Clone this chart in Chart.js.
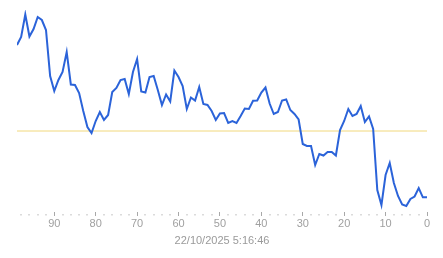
<!DOCTYPE html>
<html>
<head>
<meta charset="utf-8">
<script src="https://cdn.jsdelivr.net/npm/chart.js@4.4.1/dist/chart.umd.min.js"></script>
<style>
  html, body { margin: 0; padding: 0; background: #fff; }
  #wrap { width: 443px; height: 258px; }
</style>
</head>
<body>
<div id="wrap"><canvas id="chart"></canvas></div>
<script>
// samples, oldest (99) on the left down to the newest (0) on the right
var ages = [99, 98, 97, 96, 95, 94, 93, 92, 91, 90,
            89, 88, 87, 86, 85, 84, 83, 82, 81, 80,
            79, 78, 77, 76, 75, 74, 73, 72, 71, 70,
            69, 68, 67, 66, 65, 64, 63, 62, 61, 60,
            59, 58, 57, 56, 55, 54, 53, 52, 51, 50,
            49, 48, 47, 46, 45, 44, 43, 42, 41, 40,
            39, 38, 37, 36, 35, 34, 33, 32, 31, 30,
            29, 28, 27, 26, 25, 24, 23, 22, 21, 20,
            19, 18, 17, 16, 15, 14, 13, 12, 11, 10,
            9, 8, 7, 6, 5, 4, 3, 2, 1, 0];

var values = [165, 173, 195.5, 173.5, 181, 193, 190, 180, 134, 119,
              130, 138, 158, 125.5, 125, 117, 99, 83, 77, 89,
              98, 90, 95, 118, 122, 130, 131, 116, 138, 151,
              118.5, 117.5, 133, 134, 120, 105, 115.5, 108.5, 139.5, 133,
              124, 101, 112.5, 109.5, 123, 106, 105, 99, 90, 96.5,
              97, 87, 89, 87, 94, 101.5, 101, 109.3, 109.5, 117.5,
              122.5, 106.5, 96, 98, 109.5, 110.5, 100, 96, 90.5, 66,
              64, 64, 45, 56, 54.5, 58, 58, 54.5, 80, 89,
              101, 94, 96, 104, 88, 93.5, 81, 20, 5, 35,
              47, 27, 14, 5.5, 4, 11, 13.5, 22, 12.7, 12.7];

var threshold = 79;
var majorTicks = [90, 80, 70, 60, 50, 40, 30, 20, 10, 0];
var stamp = "22/10/2025 5:16:46";

var linePoints = values.map(function(v, i) { return { x: ages[i], y: v }; });
var refPoints = [{ x: ages[0], y: threshold }, { x: ages[ages.length - 1], y: threshold }];

// small dots between the labelled ticks
var minorDots = {
  id: 'minorDots',
  afterDraw: function(chart) {
    var sx = chart.scales.x;
    var ctx = chart.ctx;
    ctx.save();
    ctx.fillStyle = '#b8b8b8';
    for (var v = 0; v <= 98; v += 2) {
      if (v % 10 === 0) continue;
      var px = Math.round(sx.getPixelForValue(v));
      ctx.fillRect(px - 0.5, chart.chartArea.bottom + 2, 1, 1.5);
    }
    ctx.restore();
  }
};

var ctx = document.getElementById('chart');
new Chart(ctx, {
  type: 'line',
  data: {
    datasets: [{
      data: linePoints,
      borderColor: '#2b63d9',
      borderWidth: 2,
      pointRadius: 0,
      tension: 0,
      order: 1
    }, {
      data: refPoints,
      borderColor: '#f1d87c',
      borderWidth: 1,
      pointRadius: 0,
      order: 2
    }]
  },
  options: {
    responsive: true,
    maintainAspectRatio: false,
    animation: false,
    layout: { padding: { left: 17, right: 16, top: 10, bottom: 0 } },
    plugins: {
      legend: { display: false },
      tooltip: { enabled: false }
    },
    scales: {
      x: {
        type: 'linear',
        reverse: true,
        min: 0,
        max: 99,
        border: { display: false },
        grid: {
          drawOnChartArea: false,
          drawTicks: true,
          tickLength: 4,
          tickColor: '#a8a8a8',
          tickWidth: 1
        },
        ticks: {
          stepSize: 10,
          includeBounds: false,
          autoSkip: false,
          maxRotation: 0,
          padding: 1,
          color: '#a0a0a0',
          font: { family: 'Liberation Sans, Arial, sans-serif', size: 11 },
          callback: function(value) {
            return majorTicks.indexOf(value) >= 0 ? String(value) : '';
          }
        },
        title: {
          display: true,
          text: stamp,
          color: '#9a9a9a',
          font: { family: 'Liberation Sans, Arial, sans-serif', size: 11 },
          padding: { top: 0, bottom: 10 }
        },
        afterFit: function(scale) { scale.height = 46; }
      },
      y: {
        display: false,
        min: -2,
        max: 200
      }
    }
  },
  plugins: [minorDots]
});
</script>
</body>
</html>
